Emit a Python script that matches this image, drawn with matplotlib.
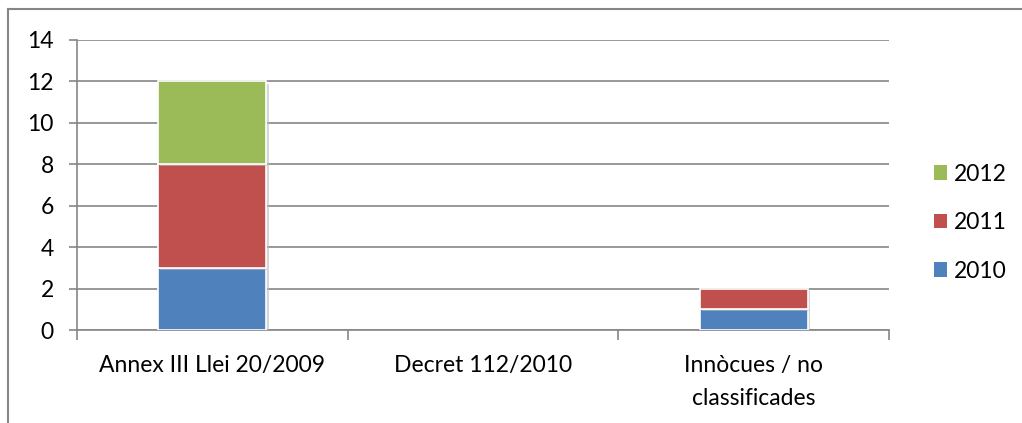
#!/usr/bin/env python3
# Stacked column chart, Excel style: activities per classification and year
import numpy as np
import matplotlib
matplotlib.use("Agg")
import matplotlib.pyplot as plt
from matplotlib.lines import Line2D
from matplotlib.patches import Rectangle
import matplotlib.patheffects as pe

# ----------------------------------------------------------
# DATA
# ----------------------------------------------------------
categories = ["Annex III Llei 20/2009", "Decret 112/2010", "Innòcues / no\nclassificades"]
years = ["2010", "2011", "2012"]
v2010 = [3, 0, 1]
v2011 = [5, 0, 1]
v2012 = [4, 0, 0]
yticks = [0, 2, 4, 6, 8, 10, 12, 14]

# ----------------------------------------------------------
# VISUAL
# ----------------------------------------------------------
COLORS = ["#4F81BD", "#C0504D", "#9BBB59"]
GRID = "#868686"
FONT = ["Lato", "DejaVu Sans"]
FS = 16.5

W, H = 1022, 423
plt.rcParams["font.family"] = FONT

fig = plt.figure(figsize=(W / 100, H / 100), dpi=100)
ax = fig.add_axes([77 / W, 1 - 330 / H, (889 - 77) / W, (330 - 40) / H])

x = np.arange(len(categories))
bottom = np.zeros(len(categories))
for vals, col, yr in zip([v2010, v2011, v2012], COLORS, years):
    vals = np.array(vals, dtype=float)
    bars = ax.bar(x, vals, width=0.4, bottom=bottom, color=col,
                  edgecolor="white", linewidth=1.2, zorder=3, label=yr)
    for b, v in zip(bars, vals):
        if v == 0:
            b.set_visible(False)
            continue
        b.set_path_effects([pe.SimplePatchShadow(offset=(1.5, -1.5), shadow_rgbFace="#bbbbbb", alpha=0.6),
                            pe.Normal()])
    bottom += vals

ax.set_xlim(-0.5, len(categories) - 0.5)
ax.set_ylim(0, 14)
ax.set_yticks(yticks)
ax.set_yticklabels([str(t) for t in yticks], fontsize=FS)
ax.yaxis.grid(True, color=GRID, linewidth=1.2, zorder=0)

ax.set_xticks(x)
ax.set_xticklabels(categories, fontsize=FS, linespacing=1.7)
ax.set_xticks(np.arange(len(categories) + 1) - 0.5, minor=True)
ax.tick_params(axis="x", which="major", length=0, pad=18)
ax.tick_params(axis="x", which="minor", length=7, color=GRID, width=1.2)
ax.tick_params(axis="y", length=5.8, color=GRID, width=1.2, pad=11)

for s in ["top", "right"]:
    ax.spines[s].set_visible(False)
for s in ["left", "bottom"]:
    ax.spines[s].set_color(GRID)
    ax.spines[s].set_linewidth(1.2)

# legend, reversed order like Excel (plain squares, no shadow)
proxies = [Rectangle((0, 0), 1, 1, facecolor=c, edgecolor="none") for c in COLORS]
leg = fig.legend(proxies[::-1], years[::-1],
                 loc="upper left", bbox_to_anchor=(913 / W, 1 - 143 / H),
                 frameon=False, fontsize=FS, handlelength=0.6, handleheight=0.6,
                 handletextpad=0.3, labelspacing=1.2)

# outer chart border (only top and left visible)
fig.add_artist(Line2D([8 / W, 8 / W], [0, 1 - 9.5 / H], color="#868686", lw=1.5,
                      transform=fig.transFigure))
fig.add_artist(Line2D([8 / W, 1], [1 - 9.5 / H, 1 - 9.5 / H], color="#868686", lw=1.5,
                      transform=fig.transFigure))

fig.savefig("out.png", dpi=100)
